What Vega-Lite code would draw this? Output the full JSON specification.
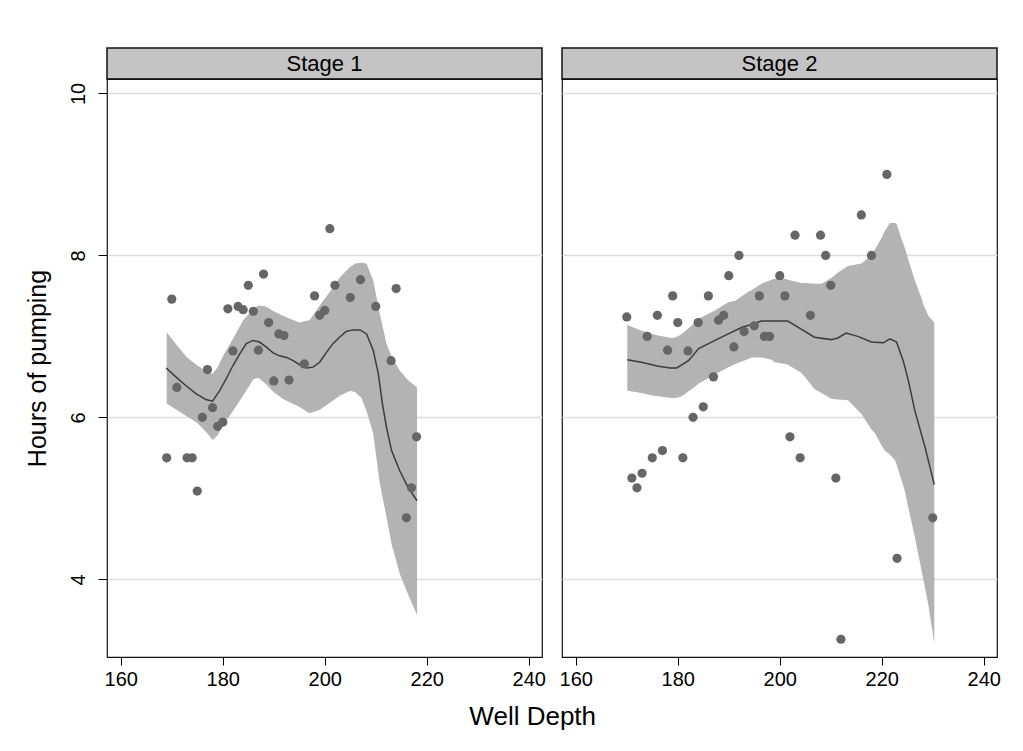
{
  "$schema": "https://vega.github.io/schema/vega-lite/v6.json",
  "background": "white",
  "padding": {"left": 24, "top": 47, "right": 26, "bottom": 10},
  "config": {
    "font": "Liberation Sans",
    "view": {"stroke": "#111", "strokeWidth": 1.2},
    "axis": {"labelFont": "Liberation Sans", "titleFont": "Liberation Sans", "labelColor": "#000", "titleColor": "#000", "tickColor": "#000", "domain": false, "titleFontWeight": "normal"}
  },
  "datasets": {
    "stages": [{"stage": "Stage 1"}, {"stage": "Stage 2"}],
    "pts": [
      {"stage": "Stage 1", "depth": 169, "hours": 5.50},
      {"stage": "Stage 1", "depth": 170, "hours": 7.46},
      {"stage": "Stage 1", "depth": 171, "hours": 6.37},
      {"stage": "Stage 1", "depth": 173, "hours": 5.50},
      {"stage": "Stage 1", "depth": 174, "hours": 5.50},
      {"stage": "Stage 1", "depth": 175, "hours": 5.09},
      {"stage": "Stage 1", "depth": 176, "hours": 6.00},
      {"stage": "Stage 1", "depth": 177, "hours": 6.59},
      {"stage": "Stage 1", "depth": 178, "hours": 6.12},
      {"stage": "Stage 1", "depth": 179, "hours": 5.89},
      {"stage": "Stage 1", "depth": 180, "hours": 5.94},
      {"stage": "Stage 1", "depth": 181, "hours": 7.34},
      {"stage": "Stage 1", "depth": 182, "hours": 6.82},
      {"stage": "Stage 1", "depth": 183, "hours": 7.37},
      {"stage": "Stage 1", "depth": 184, "hours": 7.33},
      {"stage": "Stage 1", "depth": 185, "hours": 7.63},
      {"stage": "Stage 1", "depth": 186, "hours": 7.31},
      {"stage": "Stage 1", "depth": 187, "hours": 6.83},
      {"stage": "Stage 1", "depth": 188, "hours": 7.77},
      {"stage": "Stage 1", "depth": 189, "hours": 7.17},
      {"stage": "Stage 1", "depth": 190, "hours": 6.45},
      {"stage": "Stage 1", "depth": 191, "hours": 7.03},
      {"stage": "Stage 1", "depth": 192, "hours": 7.01},
      {"stage": "Stage 1", "depth": 193, "hours": 6.46},
      {"stage": "Stage 1", "depth": 196, "hours": 6.66},
      {"stage": "Stage 1", "depth": 198, "hours": 7.50},
      {"stage": "Stage 1", "depth": 199, "hours": 7.26},
      {"stage": "Stage 1", "depth": 200, "hours": 7.32},
      {"stage": "Stage 1", "depth": 201, "hours": 8.33},
      {"stage": "Stage 1", "depth": 202, "hours": 7.63},
      {"stage": "Stage 1", "depth": 205, "hours": 7.48},
      {"stage": "Stage 1", "depth": 207, "hours": 7.70},
      {"stage": "Stage 1", "depth": 210, "hours": 7.37},
      {"stage": "Stage 1", "depth": 213, "hours": 6.70},
      {"stage": "Stage 1", "depth": 214, "hours": 7.59},
      {"stage": "Stage 1", "depth": 216, "hours": 4.76},
      {"stage": "Stage 1", "depth": 217, "hours": 5.13},
      {"stage": "Stage 1", "depth": 218, "hours": 5.76},
      {"stage": "Stage 2", "depth": 170, "hours": 7.24},
      {"stage": "Stage 2", "depth": 171, "hours": 5.25},
      {"stage": "Stage 2", "depth": 172, "hours": 5.13},
      {"stage": "Stage 2", "depth": 173, "hours": 5.31},
      {"stage": "Stage 2", "depth": 174, "hours": 7.00},
      {"stage": "Stage 2", "depth": 175, "hours": 5.50},
      {"stage": "Stage 2", "depth": 176, "hours": 7.26},
      {"stage": "Stage 2", "depth": 177, "hours": 5.59},
      {"stage": "Stage 2", "depth": 178, "hours": 6.83},
      {"stage": "Stage 2", "depth": 179, "hours": 7.50},
      {"stage": "Stage 2", "depth": 180, "hours": 7.17},
      {"stage": "Stage 2", "depth": 181, "hours": 5.50},
      {"stage": "Stage 2", "depth": 182, "hours": 6.82},
      {"stage": "Stage 2", "depth": 183, "hours": 6.00},
      {"stage": "Stage 2", "depth": 184, "hours": 7.17},
      {"stage": "Stage 2", "depth": 185, "hours": 6.13},
      {"stage": "Stage 2", "depth": 186, "hours": 7.50},
      {"stage": "Stage 2", "depth": 187, "hours": 6.50},
      {"stage": "Stage 2", "depth": 188, "hours": 7.20},
      {"stage": "Stage 2", "depth": 189, "hours": 7.26},
      {"stage": "Stage 2", "depth": 190, "hours": 7.75},
      {"stage": "Stage 2", "depth": 191, "hours": 6.87},
      {"stage": "Stage 2", "depth": 192, "hours": 8.00},
      {"stage": "Stage 2", "depth": 193, "hours": 7.06},
      {"stage": "Stage 2", "depth": 195, "hours": 7.13},
      {"stage": "Stage 2", "depth": 196, "hours": 7.50},
      {"stage": "Stage 2", "depth": 197, "hours": 7.00},
      {"stage": "Stage 2", "depth": 198, "hours": 7.00},
      {"stage": "Stage 2", "depth": 200, "hours": 7.75},
      {"stage": "Stage 2", "depth": 201, "hours": 7.50},
      {"stage": "Stage 2", "depth": 202, "hours": 5.76},
      {"stage": "Stage 2", "depth": 203, "hours": 8.25},
      {"stage": "Stage 2", "depth": 204, "hours": 5.50},
      {"stage": "Stage 2", "depth": 206, "hours": 7.26},
      {"stage": "Stage 2", "depth": 208, "hours": 8.25},
      {"stage": "Stage 2", "depth": 209, "hours": 8.00},
      {"stage": "Stage 2", "depth": 210, "hours": 7.63},
      {"stage": "Stage 2", "depth": 211, "hours": 5.25},
      {"stage": "Stage 2", "depth": 212, "hours": 3.26},
      {"stage": "Stage 2", "depth": 216, "hours": 8.50},
      {"stage": "Stage 2", "depth": 218, "hours": 8.00},
      {"stage": "Stage 2", "depth": 221, "hours": 9.00},
      {"stage": "Stage 2", "depth": 223, "hours": 4.26},
      {"stage": "Stage 2", "depth": 230, "hours": 4.76}
    ],
    "fit": [
      {"stage": "Stage 1", "depth": 168.9, "hours": 6.61},
      {"stage": "Stage 1", "depth": 170.8, "hours": 6.50},
      {"stage": "Stage 1", "depth": 172.8, "hours": 6.39},
      {"stage": "Stage 1", "depth": 174.8, "hours": 6.29},
      {"stage": "Stage 1", "depth": 176.7, "hours": 6.22},
      {"stage": "Stage 1", "depth": 178.0, "hours": 6.20},
      {"stage": "Stage 1", "depth": 179.4, "hours": 6.33},
      {"stage": "Stage 1", "depth": 180.7, "hours": 6.48},
      {"stage": "Stage 1", "depth": 182.0, "hours": 6.64},
      {"stage": "Stage 1", "depth": 183.3, "hours": 6.78},
      {"stage": "Stage 1", "depth": 184.6, "hours": 6.91},
      {"stage": "Stage 1", "depth": 185.9, "hours": 6.95},
      {"stage": "Stage 1", "depth": 187.2, "hours": 6.93},
      {"stage": "Stage 1", "depth": 188.5, "hours": 6.87},
      {"stage": "Stage 1", "depth": 189.8, "hours": 6.80},
      {"stage": "Stage 1", "depth": 191.1, "hours": 6.76},
      {"stage": "Stage 1", "depth": 192.5, "hours": 6.74},
      {"stage": "Stage 1", "depth": 193.8, "hours": 6.70},
      {"stage": "Stage 1", "depth": 195.1, "hours": 6.65},
      {"stage": "Stage 1", "depth": 196.4, "hours": 6.61},
      {"stage": "Stage 1", "depth": 197.7, "hours": 6.62},
      {"stage": "Stage 1", "depth": 199.0, "hours": 6.68},
      {"stage": "Stage 1", "depth": 200.3, "hours": 6.80},
      {"stage": "Stage 1", "depth": 201.6, "hours": 6.91},
      {"stage": "Stage 1", "depth": 202.9, "hours": 6.99},
      {"stage": "Stage 1", "depth": 204.2, "hours": 7.06},
      {"stage": "Stage 1", "depth": 205.5, "hours": 7.08},
      {"stage": "Stage 1", "depth": 206.9, "hours": 7.08},
      {"stage": "Stage 1", "depth": 208.2, "hours": 7.03},
      {"stage": "Stage 1", "depth": 209.5, "hours": 6.83},
      {"stage": "Stage 1", "depth": 210.5, "hours": 6.54},
      {"stage": "Stage 1", "depth": 211.3, "hours": 6.17},
      {"stage": "Stage 1", "depth": 212.1, "hours": 5.88},
      {"stage": "Stage 1", "depth": 213.1, "hours": 5.59},
      {"stage": "Stage 1", "depth": 214.7, "hours": 5.34},
      {"stage": "Stage 1", "depth": 216.3, "hours": 5.14},
      {"stage": "Stage 1", "depth": 218.1, "hours": 4.97},
      {"stage": "Stage 2", "depth": 170.1, "hours": 6.71},
      {"stage": "Stage 2", "depth": 172.9, "hours": 6.68},
      {"stage": "Stage 2", "depth": 176.2, "hours": 6.63},
      {"stage": "Stage 2", "depth": 178.5, "hours": 6.61},
      {"stage": "Stage 2", "depth": 179.8, "hours": 6.61},
      {"stage": "Stage 2", "depth": 182.1, "hours": 6.70},
      {"stage": "Stage 2", "depth": 184.1, "hours": 6.85},
      {"stage": "Stage 2", "depth": 187.3, "hours": 6.95},
      {"stage": "Stage 2", "depth": 189.9, "hours": 7.03},
      {"stage": "Stage 2", "depth": 192.5, "hours": 7.11},
      {"stage": "Stage 2", "depth": 195.1, "hours": 7.16},
      {"stage": "Stage 2", "depth": 196.4, "hours": 7.19},
      {"stage": "Stage 2", "depth": 201.6, "hours": 7.19},
      {"stage": "Stage 2", "depth": 204.2, "hours": 7.09},
      {"stage": "Stage 2", "depth": 206.8, "hours": 6.99},
      {"stage": "Stage 2", "depth": 210.1, "hours": 6.96},
      {"stage": "Stage 2", "depth": 211.4, "hours": 6.98},
      {"stage": "Stage 2", "depth": 213.0, "hours": 7.04},
      {"stage": "Stage 2", "depth": 215.3, "hours": 7.00},
      {"stage": "Stage 2", "depth": 218.0, "hours": 6.93},
      {"stage": "Stage 2", "depth": 220.3, "hours": 6.92},
      {"stage": "Stage 2", "depth": 221.6, "hours": 6.97},
      {"stage": "Stage 2", "depth": 222.9, "hours": 6.93},
      {"stage": "Stage 2", "depth": 224.2, "hours": 6.70},
      {"stage": "Stage 2", "depth": 225.2, "hours": 6.46},
      {"stage": "Stage 2", "depth": 226.5, "hours": 6.08},
      {"stage": "Stage 2", "depth": 228.5, "hours": 5.63},
      {"stage": "Stage 2", "depth": 230.3, "hours": 5.17}
    ],
    "band": [
      {"stage": "Stage 1", "depth": 169.0, "lo": 6.17, "hi": 7.05},
      {"stage": "Stage 1", "depth": 171.0, "lo": 6.09, "hi": 6.89},
      {"stage": "Stage 1", "depth": 173.0, "lo": 6.01, "hi": 6.74},
      {"stage": "Stage 1", "depth": 175.0, "lo": 5.93, "hi": 6.64},
      {"stage": "Stage 1", "depth": 177.0, "lo": 5.80, "hi": 6.56},
      {"stage": "Stage 1", "depth": 178.0, "lo": 5.72, "hi": 6.54},
      {"stage": "Stage 1", "depth": 179.0, "lo": 5.78, "hi": 6.62},
      {"stage": "Stage 1", "depth": 180.0, "lo": 5.90, "hi": 6.75},
      {"stage": "Stage 1", "depth": 182.0, "lo": 6.08, "hi": 6.97},
      {"stage": "Stage 1", "depth": 184.0, "lo": 6.27, "hi": 7.20},
      {"stage": "Stage 1", "depth": 186.0, "lo": 6.47, "hi": 7.34},
      {"stage": "Stage 1", "depth": 187.0, "lo": 6.49, "hi": 7.38},
      {"stage": "Stage 1", "depth": 188.5, "lo": 6.41, "hi": 7.37},
      {"stage": "Stage 1", "depth": 190.0, "lo": 6.31, "hi": 7.31},
      {"stage": "Stage 1", "depth": 192.0, "lo": 6.22, "hi": 7.25},
      {"stage": "Stage 1", "depth": 195.0, "lo": 6.13, "hi": 7.17},
      {"stage": "Stage 1", "depth": 197.0, "lo": 6.05, "hi": 7.20},
      {"stage": "Stage 1", "depth": 199.0, "lo": 6.09, "hi": 7.38},
      {"stage": "Stage 1", "depth": 201.0, "lo": 6.18, "hi": 7.55},
      {"stage": "Stage 1", "depth": 203.0, "lo": 6.27, "hi": 7.73},
      {"stage": "Stage 1", "depth": 205.0, "lo": 6.33, "hi": 7.86},
      {"stage": "Stage 1", "depth": 206.0, "lo": 6.31, "hi": 7.90},
      {"stage": "Stage 1", "depth": 207.2, "lo": 6.24, "hi": 7.91},
      {"stage": "Stage 1", "depth": 208.2, "lo": 6.08, "hi": 7.90},
      {"stage": "Stage 1", "depth": 209.5, "lo": 5.80, "hi": 7.69},
      {"stage": "Stage 1", "depth": 210.8, "lo": 5.18, "hi": 7.28},
      {"stage": "Stage 1", "depth": 212.1, "lo": 4.77, "hi": 6.91},
      {"stage": "Stage 1", "depth": 213.1, "lo": 4.44, "hi": 6.75},
      {"stage": "Stage 1", "depth": 214.7, "lo": 4.07, "hi": 6.58},
      {"stage": "Stage 1", "depth": 216.3, "lo": 3.82, "hi": 6.46},
      {"stage": "Stage 1", "depth": 218.1, "lo": 3.56, "hi": 6.37},
      {"stage": "Stage 2", "depth": 170.1, "lo": 6.33, "hi": 7.14},
      {"stage": "Stage 2", "depth": 172.9, "lo": 6.30, "hi": 7.07},
      {"stage": "Stage 2", "depth": 175.0, "lo": 6.27, "hi": 7.03},
      {"stage": "Stage 2", "depth": 176.2, "lo": 6.26, "hi": 7.01},
      {"stage": "Stage 2", "depth": 178.8, "lo": 6.24, "hi": 6.98},
      {"stage": "Stage 2", "depth": 179.6, "lo": 6.24, "hi": 6.99},
      {"stage": "Stage 2", "depth": 180.8, "lo": 6.26, "hi": 7.03},
      {"stage": "Stage 2", "depth": 183.4, "lo": 6.38, "hi": 7.17},
      {"stage": "Stage 2", "depth": 184.2, "lo": 6.42, "hi": 7.22},
      {"stage": "Stage 2", "depth": 187.3, "lo": 6.53, "hi": 7.32},
      {"stage": "Stage 2", "depth": 189.9, "lo": 6.62, "hi": 7.42},
      {"stage": "Stage 2", "depth": 191.3, "lo": 6.66, "hi": 7.44},
      {"stage": "Stage 2", "depth": 193.8, "lo": 6.72, "hi": 7.55},
      {"stage": "Stage 2", "depth": 194.5, "lo": 6.74, "hi": 7.57},
      {"stage": "Stage 2", "depth": 196.4, "lo": 6.74, "hi": 7.65},
      {"stage": "Stage 2", "depth": 198.4, "lo": 6.71, "hi": 7.70},
      {"stage": "Stage 2", "depth": 199.0, "lo": 6.68, "hi": 7.71},
      {"stage": "Stage 2", "depth": 201.0, "lo": 6.66, "hi": 7.71},
      {"stage": "Stage 2", "depth": 201.6, "lo": 6.65, "hi": 7.70},
      {"stage": "Stage 2", "depth": 204.2, "lo": 6.55, "hi": 7.66},
      {"stage": "Stage 2", "depth": 204.9, "lo": 6.50, "hi": 7.66},
      {"stage": "Stage 2", "depth": 206.8, "lo": 6.35, "hi": 7.65},
      {"stage": "Stage 2", "depth": 208.2, "lo": 6.30, "hi": 7.65},
      {"stage": "Stage 2", "depth": 210.1, "lo": 6.23, "hi": 7.72},
      {"stage": "Stage 2", "depth": 211.4, "lo": 6.22, "hi": 7.79},
      {"stage": "Stage 2", "depth": 213.4, "lo": 6.21, "hi": 7.87},
      {"stage": "Stage 2", "depth": 216.0, "lo": 6.04, "hi": 7.90},
      {"stage": "Stage 2", "depth": 218.0, "lo": 5.85, "hi": 8.00},
      {"stage": "Stage 2", "depth": 218.7, "lo": 5.80, "hi": 8.08},
      {"stage": "Stage 2", "depth": 220.0, "lo": 5.65, "hi": 8.22},
      {"stage": "Stage 2", "depth": 220.6, "lo": 5.59, "hi": 8.30},
      {"stage": "Stage 2", "depth": 221.6, "lo": 5.54, "hi": 8.40},
      {"stage": "Stage 2", "depth": 222.6, "lo": 5.47, "hi": 8.40},
      {"stage": "Stage 2", "depth": 222.9, "lo": 5.42, "hi": 8.39},
      {"stage": "Stage 2", "depth": 223.9, "lo": 5.22, "hi": 8.20},
      {"stage": "Stage 2", "depth": 224.5, "lo": 5.10, "hi": 8.10},
      {"stage": "Stage 2", "depth": 225.2, "lo": 4.89, "hi": 7.95},
      {"stage": "Stage 2", "depth": 226.5, "lo": 4.52, "hi": 7.69},
      {"stage": "Stage 2", "depth": 227.8, "lo": 4.11, "hi": 7.47},
      {"stage": "Stage 2", "depth": 228.1, "lo": 4.02, "hi": 7.40},
      {"stage": "Stage 2", "depth": 229.2, "lo": 3.66, "hi": 7.25},
      {"stage": "Stage 2", "depth": 230.3, "lo": 3.21, "hi": 7.17}
    ]
  },
  "title": {"text": "Well Depth", "orient": "bottom", "anchor": "middle", "fontSize": 26, "fontWeight": "normal", "font": "Liberation Sans", "color": "#000", "offset": 14, "dx": 20},
  "spacing": 11,
  "hconcat": [
    {
      "spacing": 0,
      "bounds": "flush",
      "vconcat": [
        {
          "width": 435, "height": 31,
          "data": {"name": "stages"},
          "transform": [{"filter": "datum.stage === 'Stage 1'"}],
          "view": {"fill": "#c4c4c4", "stroke": "#111", "strokeWidth": 1.5},
          "mark": {"type": "text", "fontSize": 22, "font": "Liberation Sans", "color": "#000", "baseline": "middle"},
          "encoding": {"text": {"field": "stage"}}
        },
        {
          "width": 435, "height": 578,
          "layer": [
            {
              "data": {"name": "band"},
              "transform": [{"filter": "datum.stage === 'Stage 1'"}],
              "mark": {"type": "area", "color": "#b3b3b3", "opacity": 1},
              "encoding": {
                "x": {"field": "depth", "type": "quantitative", "scale": {"domain": [157.3, 242.6], "nice": false, "zero": false},
                      "axis": {"values": [160, 180, 200, 220, 240], "format": "d", "title": null, "labelFontSize": 20, "tickSize": 8, "labelPadding": 4, "grid": false}},
                "y": {"field": "lo", "type": "quantitative", "scale": {"domain": [3.041, 10.178], "nice": false, "zero": false},
                      "axis": {"values": [4, 6, 8, 10], "format": "d", "title": "Hours of pumping", "titleFontSize": 25, "labelFontSize": 20, "labelAngle": -90, "tickSize": 9, "labelPadding": 10, "titlePadding": 18, "grid": true, "gridColor": "#dcdcdc", "gridWidth": 1.5}},
                "y2": {"field": "hi"}
              }
            },
            {
              "data": {"name": "fit"},
              "transform": [{"filter": "datum.stage === 'Stage 1'"}],
              "mark": {"type": "line", "color": "#3c3c3c", "strokeWidth": 1.5},
              "encoding": {
                "x": {"field": "depth", "type": "quantitative"},
                "y": {"field": "hours", "type": "quantitative"}
              }
            },
            {
              "data": {"name": "pts"},
              "transform": [{"filter": "datum.stage === 'Stage 1'"}],
              "mark": {"type": "circle", "color": "#666666", "opacity": 1, "size": 85},
              "encoding": {
                "x": {"field": "depth", "type": "quantitative"},
                "y": {"field": "hours", "type": "quantitative"}
              }
            }
          ]
        }
      ]
    },
    {
      "spacing": 0,
      "bounds": "flush",
      "vconcat": [
        {
          "width": 435, "height": 31,
          "data": {"name": "stages"},
          "transform": [{"filter": "datum.stage === 'Stage 2'"}],
          "view": {"fill": "#c4c4c4", "stroke": "#111", "strokeWidth": 1.5},
          "mark": {"type": "text", "fontSize": 22, "font": "Liberation Sans", "color": "#000", "baseline": "middle"},
          "encoding": {"text": {"field": "stage"}}
        },
        {
          "width": 435, "height": 578,
          "layer": [
            {
              "data": {"name": "band"},
              "transform": [{"filter": "datum.stage === 'Stage 2'"}],
              "mark": {"type": "area", "color": "#b3b3b3", "opacity": 1},
              "encoding": {
                "x": {"field": "depth", "type": "quantitative", "scale": {"domain": [157.3, 242.6], "nice": false, "zero": false},
                      "axis": {"values": [160, 180, 200, 220, 240], "format": "d", "title": null, "labelFontSize": 20, "tickSize": 8, "labelPadding": 4, "grid": false}},
                "y": {"field": "lo", "type": "quantitative", "scale": {"domain": [3.041, 10.178], "nice": false, "zero": false},
                      "axis": {"values": [4, 6, 8, 10], "title": null, "labels": false, "ticks": false, "minExtent": 0, "grid": true, "gridColor": "#dcdcdc", "gridWidth": 1.5}},
                "y2": {"field": "hi"}
              }
            },
            {
              "data": {"name": "fit"},
              "transform": [{"filter": "datum.stage === 'Stage 2'"}],
              "mark": {"type": "line", "color": "#3c3c3c", "strokeWidth": 1.5},
              "encoding": {
                "x": {"field": "depth", "type": "quantitative"},
                "y": {"field": "hours", "type": "quantitative"}
              }
            },
            {
              "data": {"name": "pts"},
              "transform": [{"filter": "datum.stage === 'Stage 2'"}],
              "mark": {"type": "circle", "color": "#666666", "opacity": 1, "size": 85},
              "encoding": {
                "x": {"field": "depth", "type": "quantitative"},
                "y": {"field": "hours", "type": "quantitative"}
              }
            }
          ]
        }
      ]
    }
  ]
}
